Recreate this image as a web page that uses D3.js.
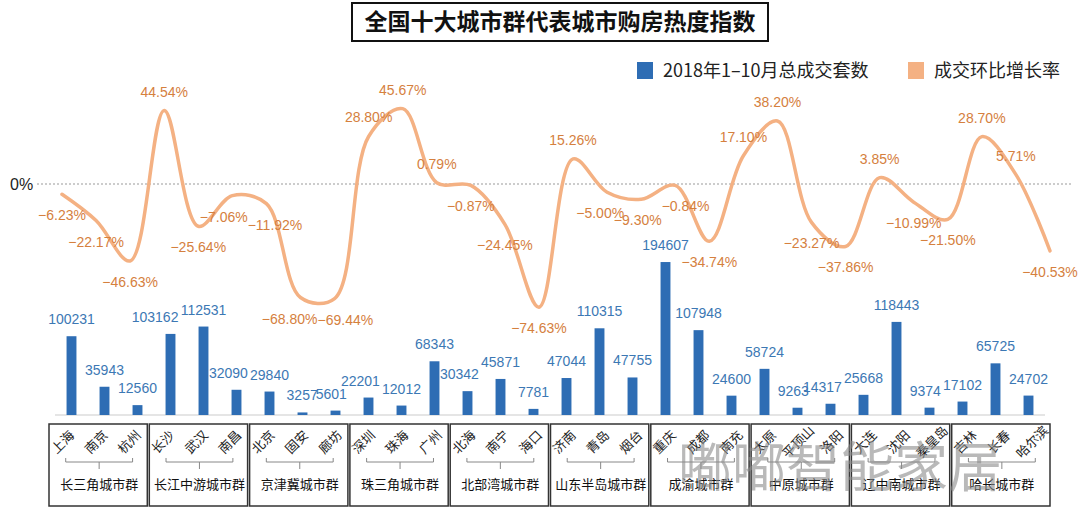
<!DOCTYPE html>
<html>
<head>
<meta charset="utf-8">
<script src="https://cdn.jsdelivr.net/npm/d3@7/dist/d3.min.js"></script>
<style>
  body { margin: 0; background: #fff; }
  svg { display: block; }
  text { font-family: "Liberation Sans", "Noto Sans CJK SC", sans-serif; }
  .cjk { font-family: "Noto Sans CJK SC", sans-serif; }
</style>
</head>
<body>
<script>
// city list, grouped three per city cluster
var cities = ["上海", "南京", "杭州", "长沙", "武汉", "南昌", "北京", "固安", "廊坊",
  "深圳", "珠海", "广州", "北海", "南宁", "海口", "济南", "青岛", "烟台",
  "重庆", "成都", "南充", "太原", "平顶山", "洛阳", "大连", "沈阳", "秦皇岛",
  "吉林", "长春", "哈尔滨"];

var groups = ["长三角城市群", "长江中游城市群", "京津冀城市群", "珠三角城市群", "北部湾城市群",
  "山东半岛城市群", "成渝城市群", "中原城市群", "辽中南城市群", "哈长城市群"];

// 2018年1-10月总成交套数
var deals = [100231, 35943, 12560, 103162, 112531, 32090, 29840, 3257, 5601,
  22201, 12012, 68343, 30342, 45871, 7781, 47044, 110315, 47755,
  194607, 107948, 24600, 58724, 9263, 14317, 25668, 118443, 9374,
  17102, 65725, 24702];

// 成交环比增长率 (%)
var growth = [-6.23, -22.17, -46.63, 44.54, -25.64, -7.06, -11.92, -68.80, -69.44,
  28.80, 45.67, 0.79, -0.87, -24.45, -74.63, 15.26, -5.00, -9.30,
  -0.84, -34.74, 17.10, 38.20, -23.27, -37.86, 3.85, -10.99, -21.50,
  28.70, 5.71, -40.53];

var legendItems = ["2018年1–10月总成交套数", "成交环比增长率"];

var width = 1080;
var height = 507;
var blue = "#2e6db4";
var orange = "#f4b183";

var svg = d3.select("body").append("svg")
  .attr("width", width)
  .attr("height", height);

// scales
var xBar = d3.scaleBand().domain(cities).range([55, 1045]).paddingInner(0.7).paddingOuter(0.35);
var xLine = d3.scalePoint().domain(cities).range([62, 1050]);
var xCat = d3.scaleBand().domain(cities).range([49, 1052]);
var yBar = d3.scaleLinear().domain([0, 200000]).range([415, 257.8]);
var yLine = d3.scaleLinear().domain([-80, 50]).range([184 + 80 * 1.65, 184 - 50 * 1.65]);

// title
svg.append("rect")
  .attr("x", 352).attr("y", 3).attr("width", 416).attr("height", 38)
  .attr("fill", "#fff").attr("stroke", "#111").attr("stroke-width", 2);
svg.append("text").attr("class", "cjk")
  .attr("x", 560).attr("y", 30)
  .attr("text-anchor", "middle")
  .attr("font-size", 23).attr("font-weight", "bold").attr("fill", "#111")
  .text("全国十大城市群代表城市购房热度指数");

// legend
var legend = svg.append("g");
var legendX = [637, 908];
var legendColors = [blue, orange];
legendItems.forEach(function(d, i) {
  legend.append("rect")
    .attr("x", legendX[i]).attr("y", 62).attr("width", 16).attr("height", 17)
    .attr("fill", legendColors[i]);
  legend.append("text").attr("class", "cjk")
    .attr("x", legendX[i] + 26).attr("y", 77)
    .attr("font-size", 18).attr("fill", "#222")
    .text(d);
});

// zero reference line
svg.append("line")
  .attr("x1", 37).attr("x2", 1072)
  .attr("y1", yLine(0)).attr("y2", yLine(0))
  .attr("stroke", "#999").attr("stroke-width", 1).attr("stroke-dasharray", "2,2");
svg.append("text")
  .attr("x", 10).attr("y", yLine(0) + 6)
  .attr("font-size", 16).attr("fill", "#222")
  .text("0%");

// baseline
svg.append("line")
  .attr("x1", 55).attr("x2", 1045)
  .attr("y1", yBar(0)).attr("y2", yBar(0))
  .attr("stroke", "#dcdcdc").attr("stroke-width", 1.5);

// bars
svg.selectAll(".bar")
  .data(deals)
  .enter()
  .append("rect")
  .classed("bar", true)
  .attr("x", function(d, i) { return xBar(cities[i]); })
  .attr("y", function(d) { return yBar(d); })
  .attr("width", xBar.bandwidth())
  .attr("height", function(d) { return yBar(0) - yBar(d); })
  .attr("fill", blue);

// move overlapping neighbour labels apart; share = part of the shift given to the right one
function nudge(sel, gap, share) {
  var nodes = sel.nodes();
  for (var i = 0; i < nodes.length - 1; i++) {
    var a = nodes[i].getBBox(), b = nodes[i + 1].getBBox();
    var vert = a.y < b.y + b.height - 2 && b.y < a.y + a.height - 2;
    var over = a.x + a.width + gap - b.x;
    if (vert && over > 0) {
      var na = d3.select(nodes[i]), nb = d3.select(nodes[i + 1]);
      na.attr("x", +na.attr("x") - over * (1 - share));
      nb.attr("x", +nb.attr("x") + over * share);
    }
  }
}

var barLabels = svg.selectAll(".bar-label")
  .data(deals)
  .enter()
  .append("text")
  .classed("bar-label", true)
  .attr("x", function(d, i) { return xBar(cities[i]) + xBar.bandwidth() / 2; })
  .attr("y", function(d) { return yBar(d) - 12; })
  .attr("text-anchor", "middle")
  .attr("font-size", 14)
  .attr("fill", "#3c78b4")
  .text(function(d) { return d; });
nudge(barLabels, 2, 0);

// growth line
var line = d3.line()
  .x(function(d, i) { return xLine(cities[i]); })
  .y(function(d) { return yLine(d); })
  .curve(d3.curveCatmullRom.alpha(0.5));

svg.append("path")
  .datum(growth)
  .attr("d", line)
  .attr("fill", "none")
  .attr("stroke", orange)
  .attr("stroke-width", 3.5)
  .attr("stroke-linecap", "round");

var fmt = d3.format(".2f");
var growthLabels = svg.selectAll(".growth-label")
  .data(growth)
  .enter()
  .append("text")
  .classed("growth-label", true)
  .attr("x", function(d, i) { return xLine(cities[i]); })
  .attr("y", function(d) { return yLine(d) + (d >= 0 ? -14 : 26); })
  .attr("text-anchor", "middle")
  .attr("font-size", 14)
  .attr("fill", "#d5803e")
  .text(function(d) { return fmt(d) + "%"; });
nudge(growthLabels, 0, 0.5);

// category boxes
var step = xCat.step();
var catGroups = svg.selectAll(".cat")
  .data(groups)
  .enter()
  .append("g")
  .classed("cat", true);

catGroups.append("rect")
  .attr("x", function(d, g) { return xCat(cities[g * 3]); })
  .attr("y", 424)
  .attr("width", step * 3 - 2)
  .attr("height", 82)
  .attr("fill", "#fff")
  .attr("stroke", "#333")
  .attr("stroke-width", 1.5);

catGroups.append("path")
  .attr("d", function(d, g) {
    var a = xCat(cities[g * 3]) + step / 2;
    var b = xCat(cities[g * 3 + 2]) + step / 2;
    var m = (a + b) / 2;
    return "M" + a + ",458V462H" + b + "V458M" + m + ",462V469";
  })
  .attr("fill", "none")
  .attr("stroke", "#888")
  .attr("stroke-width", 1);

catGroups.append("text").attr("class", "cjk")
  .attr("x", function(d, g) { return xCat(cities[g * 3 + 1]) + step / 2; })
  .attr("y", 489)
  .attr("text-anchor", "middle")
  .attr("font-size", 13)
  .attr("fill", "#111")
  .text(function(d) { return d; });

svg.selectAll(".city")
  .data(cities)
  .enter()
  .append("text")
  .attr("class", "city cjk")
  .attr("transform", function(d) {
    return "translate(" + (xCat(d) + step / 2 - 3) + ",442) rotate(-45)";
  })
  .attr("text-anchor", "middle")
  .attr("dy", "0.35em")
  .attr("font-size", 13)
  .attr("fill", "#222")
  .text(function(d) { return d; });

// watermark
svg.append("text").attr("class", "cjk")
  .attr("x", 678).attr("y", 487)
  .attr("font-size", 54)
  .attr("fill", "#8a8a8a")
  .attr("fill-opacity", 0.6)
  .text("嘟嘟智能家居");
</script>
</body>
</html>
